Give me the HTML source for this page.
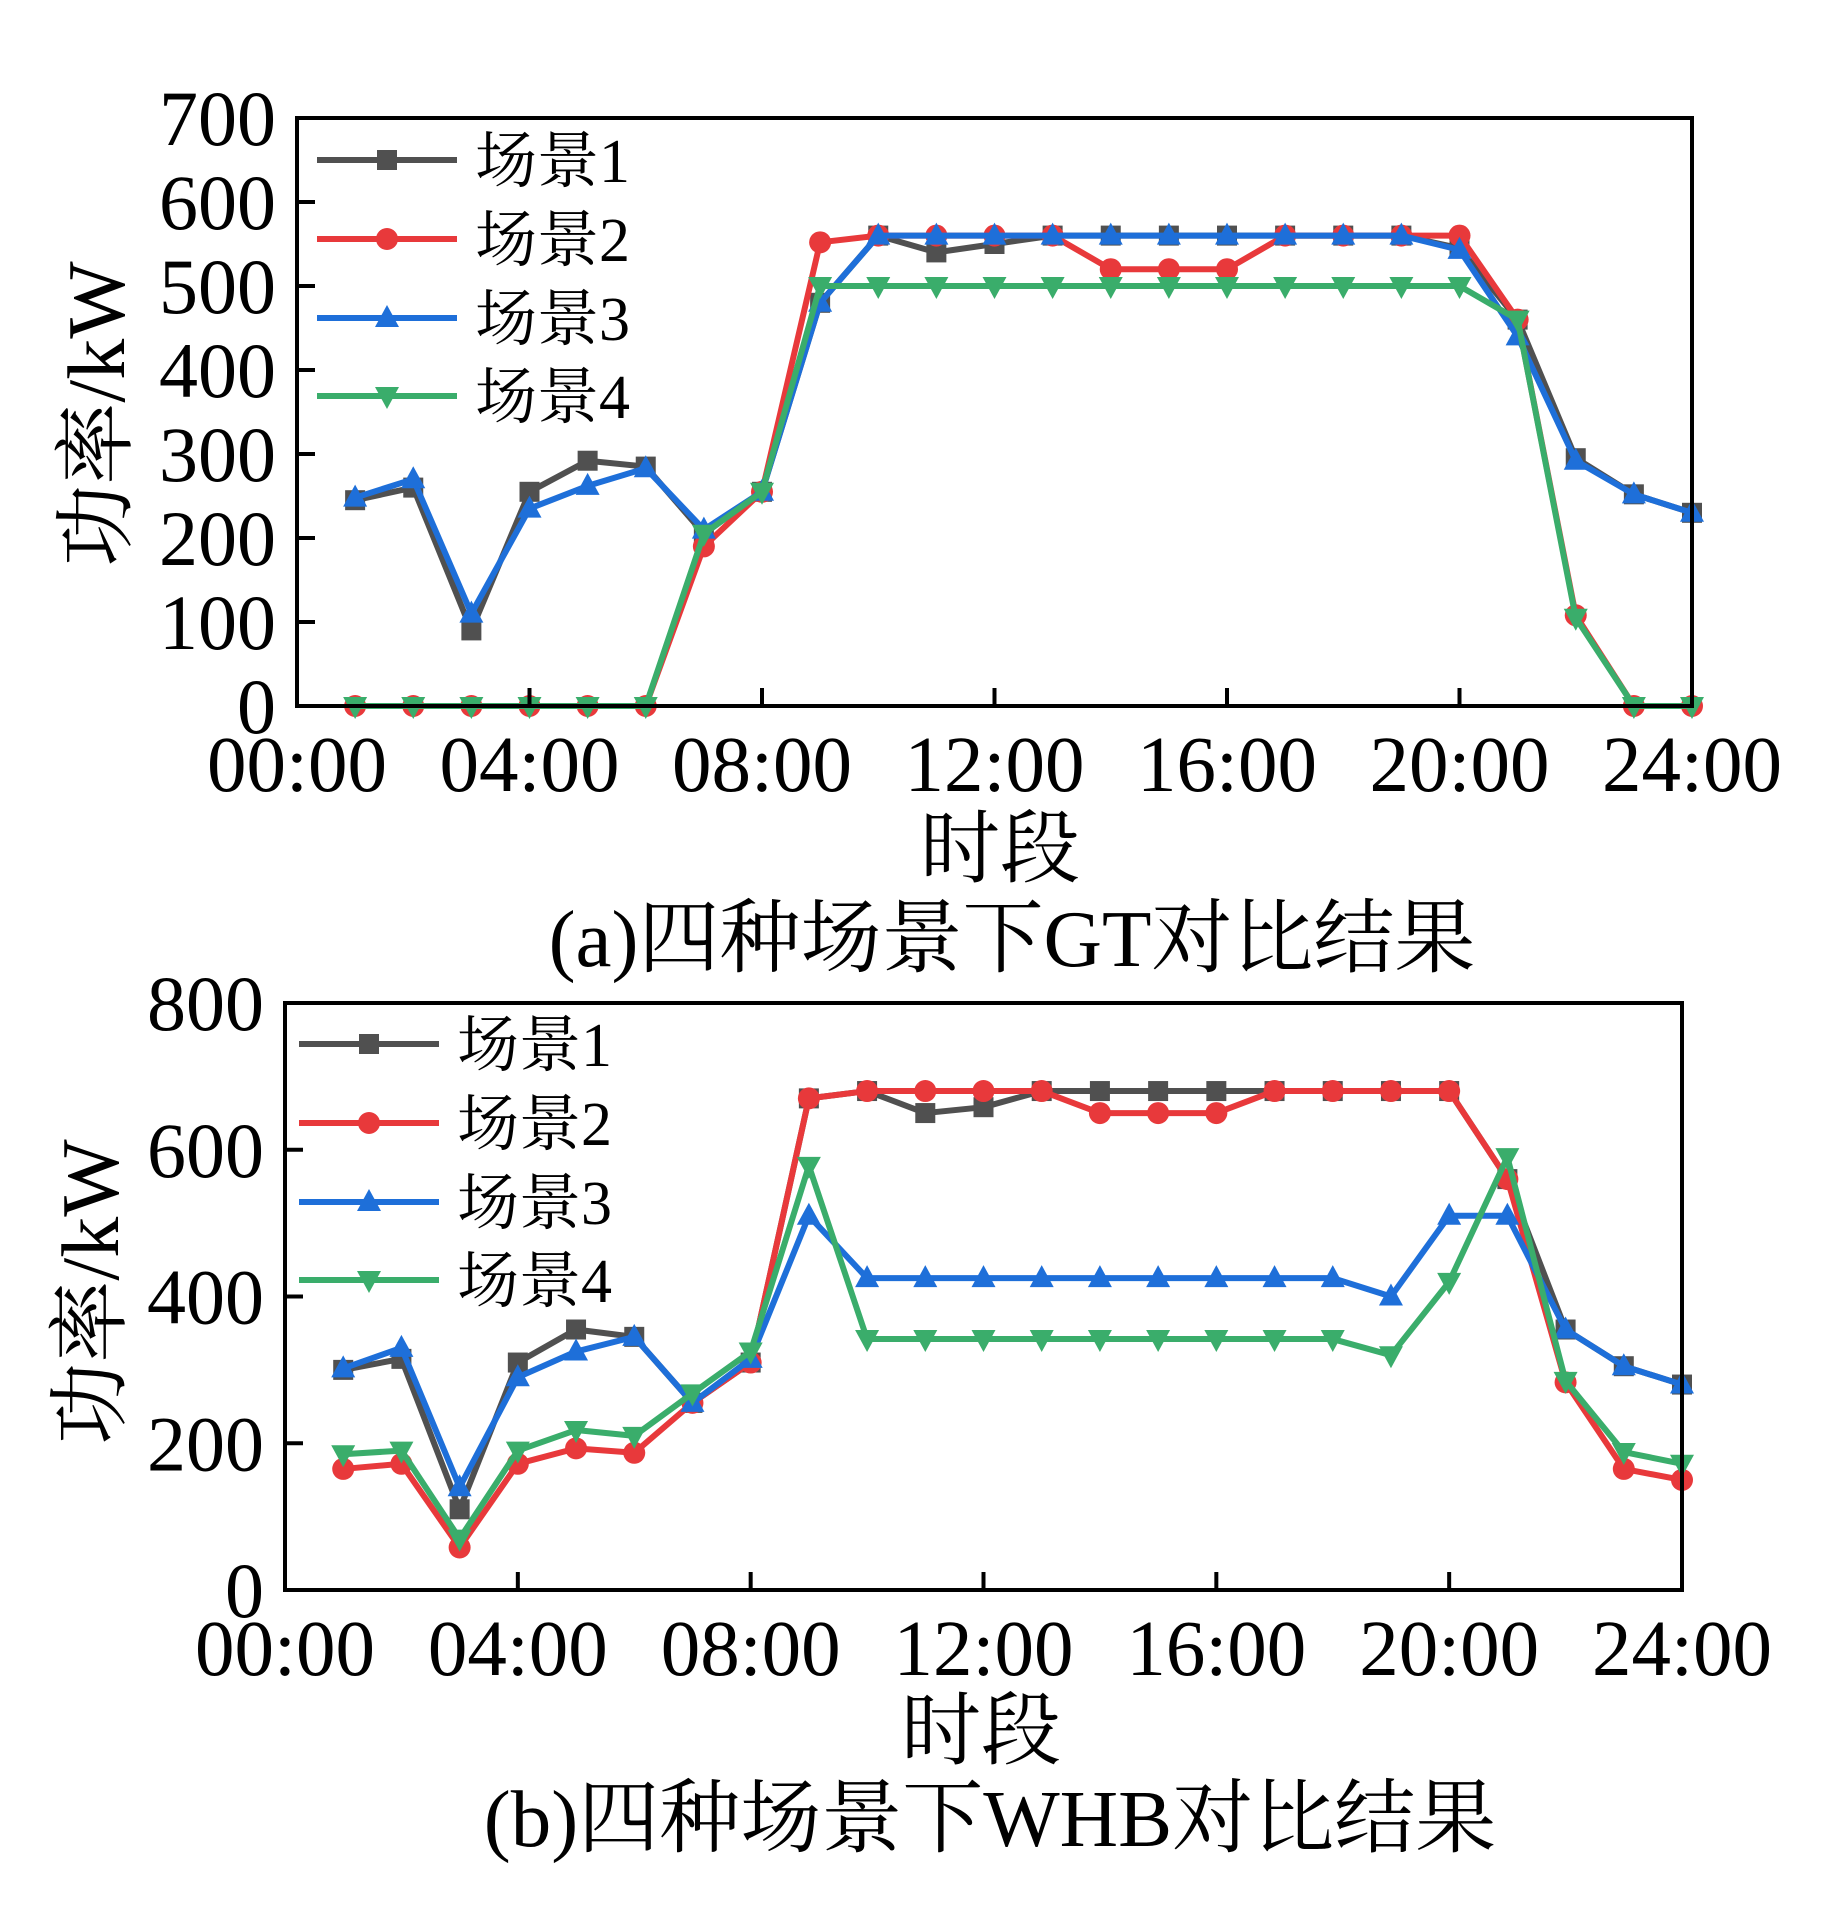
<!DOCTYPE html>
<html><head><meta charset="utf-8">
<style>
html,body{margin:0;padding:0;background:#fff;}
svg{display:block;font-family:"Liberation Serif","Noto Serif CJK SC",serif;}
</style></head>
<body>
<svg id="c" width="1828" height="1915" viewBox="0 0 1828 1915" xmlns="http://www.w3.org/2000/svg"></svg>
<script>
const hours = [1,2,3,4,5,6,7,8,9,10,11,12,13,14,15,16,17,18,19,20,21,22,23,24];
const xTickLabels = ["00:00","04:00","08:00","12:00","16:00","20:00","24:00"];
const seriesNames = ["场景1","场景2","场景3","场景4"];
const gtS1 = [245,260,90,255,292,285,205,255,480,560,540,550,560,560,560,560,560,560,560,545,460,295,252,230];
const gtS2 = [0,0,0,0,0,0,190,255,552,560,560,560,560,520,520,520,560,560,560,560,460,108,0,0];
const gtS3 = [248,270,110,235,262,283,210,255,480,560,560,560,560,560,560,560,560,560,560,543,440,292,252,230];
const gtS4 = [0,0,0,0,0,0,205,255,500,500,500,500,500,500,500,500,500,500,500,500,460,105,0,0];
const gtYTicks = [0,100,200,300,400,500,600,700];
const whbS1 = [300,315,110,310,355,345,255,310,670,680,650,658,680,680,680,680,680,680,680,680,560,355,305,280];
const whbS2 = [165,172,58,172,193,187,255,310,670,680,680,680,680,650,650,650,680,680,680,680,560,283,165,150];
const whbS3 = [302,330,140,290,325,345,255,315,510,425,425,425,425,425,425,425,425,425,400,510,510,355,305,280];
const whbS4 = [185,190,70,190,218,210,268,325,578,342,342,342,342,342,342,342,342,342,320,420,590,285,188,172];
const whbYTicks = [0,200,400,600,800];

const colors = ["#505050","#e8393b","#1e6fd9","#3aad6b"];
const NS = "http://www.w3.org/2000/svg";
const svg = document.getElementById('c');
function mk(tag, attrs, parent){
  const e = document.createElementNS(NS, tag);
  for (const k in attrs) e.setAttribute(k, attrs[k]);
  (parent||svg).appendChild(e);
  return e;
}
function marker(g, i, x, y){
  const s = 10;
  let m;
  if (i===0) m = mk('rect',{x:x-s,y:y-s,width:2*s,height:2*s,fill:colors[i]},g);
  else if (i===1) m = mk('circle',{cx:x,cy:y,r:s+1,fill:colors[i]},g);
  else if (i===2) m = mk('polygon',{points:`${x},${y-s-3} ${x-s-2},${y+s-1} ${x+s+2},${y+s-1}`,fill:colors[i]},g);
  else m = mk('polygon',{points:`${x},${y+s+3} ${x-s-2},${y-s+1} ${x+s+2},${y-s+1}`,fill:colors[i]},g);
  return m;
}
function drawPlot(p){
  const g = mk('g',{});
  
  
  const xs = h => p.L + (p.R-p.L)*h/24;
  const ys = v => p.B - (p.B-p.T)*v/p.ymax;
  p.series.forEach((data,i)=>{
    const sg = mk('g',{},g);
    
    
    const pts = data.map((v,k)=>xs(hours[k])+','+ys(v)).join(' ');
    const pl = mk('polyline',{points:pts,fill:'none',stroke:colors[i],'stroke-width':6,'stroke-linejoin':'round'},sg);
    
    
    data.forEach((v,k)=>{
      const m = marker(sg,i,xs(hours[k]),ys(v));
      
      
    });
  });
  const fr = mk('rect',{x:p.L,y:p.T,width:p.R-p.L,height:p.B-p.T,fill:'none',stroke:'#000','stroke-width':4},g);
  
  
  p.yticks.forEach(v=>{
    const y = ys(v);
    const t = mk('line',{x1:p.L,y1:y,x2:p.L+18,y2:y,stroke:'#000','stroke-width':4},g);
    
    
    const tx = mk('text',{x:p.yLabelX,y:y+27,'font-size':78,'text-anchor':'end'},g);
    tx.textContent = v;
    
    
  });
  xTickLabels.forEach((lab,k)=>{
    const x = xs(k*4);
    const t = mk('line',{x1:x,y1:p.B,x2:x,y2:p.B-18,stroke:'#000','stroke-width':4},g);
    
    
    const tx = mk('text',{x:x,y:p.B+85,'font-size':79,'text-anchor':'middle'},g);
    tx.textContent = lab;
    
    
  });
  seriesNames.forEach((n,i)=>{
    const y = p.legY[i];
    const lg = mk('g',{},g);
    
    
    mk('line',{x1:p.legX,y1:y,x2:p.legX+140,y2:y,stroke:colors[i],'stroke-width':6},lg);
    marker(lg,i,p.legX+70,y);
    const tx = mk('text',{x:p.legX+158,y:y+22,'font-size':62},lg);
    tx.textContent = n;
  });
  const yt = mk('text',{x:0,y:0,'font-size':82,'text-anchor':'middle',transform:`translate(${p.yTitleX},${p.yTitleY}) rotate(-90)`},g);
  yt.textContent = '功率/kW';
  
  
  const xt = mk('text',{x:p.xTitleX,y:p.xTitleY,'font-size':80,'text-anchor':'middle'},g);
  xt.textContent = '时段';
  
  
  const cap = mk('text',{x:p.capX,y:p.capY,'font-size':81,'text-anchor':'middle'},g);
  cap.textContent = p.caption;
  
  
}
drawPlot({name:'gt-chart',L:297,R:1692,T:118,B:706,ymax:700,series:[gtS1,gtS2,gtS3,gtS4],yticks:gtYTicks,
  yLabelX:276,legX:317,legY:[160,239,318,396],yTitleX:124,yTitleY:414,xTitleX:1000,xTitleY:876,capX:1012,capY:966,
  caption:'(a)四种场景下GT对比结果'});
drawPlot({name:'whb-chart',L:285,R:1682,T:1003,B:1590,ymax:800,series:[whbS1,whbS2,whbS3,whbS4],yticks:whbYTicks,
  yLabelX:264,legX:299,legY:[1044,1123,1202,1280],yTitleX:118,yTitleY:1292,xTitleX:981,xTitleY:1758,capX:990,capY:1846,
  caption:'(b)四种场景下WHB对比结果'});
</script>
</body></html>
